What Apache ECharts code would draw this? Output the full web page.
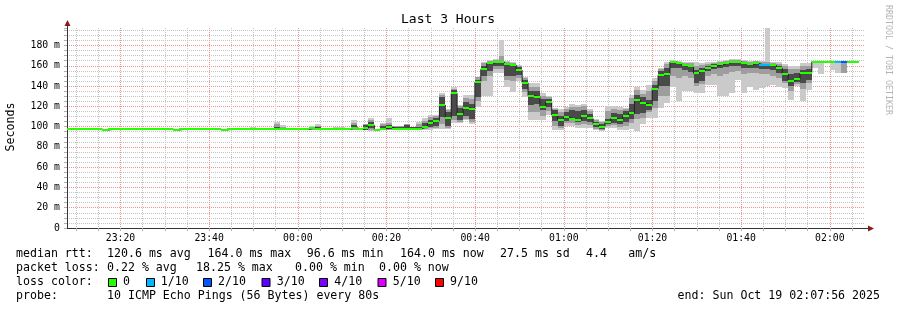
<!DOCTYPE html>
<html><head><meta charset="utf-8">
<script src="https://cdn.jsdelivr.net/npm/echarts@6/dist/echarts.min.js"></script>
<style>html,body{margin:0;padding:0;background:#fff}#c{width:897px;height:310px}</style>
</head><body><div id="c"></div>
<script>
// ---- time base (minutes since 00:00 of Oct 18) ----
const stepStart = 23 * 60 + 7 + 56 / 60;   // 23:07:56
const stepMinutes = 80 / 60;                // probe every 80 s
const spanMinutes = 180;                    // last 3 hours

// x tick labels
const tickMinutes = [1400, 1420, 1440, 1460, 1480, 1500, 1520, 1540, 1560];
const tickLabels = ['23:20', '23:40', '00:00', '00:20', '00:40', '01:00', '01:20', '01:40', '02:00'];

// median rtt per step (ms)
const median = [
  97.4, 97.4, 97.4, 97.4, 97.4, 97.4, 96.6, 97.4, 97.4, 97.4,
  97.4, 97.4, 97.4, 97.4, 97.4, 97.4, 97.4, 97.4, 96.6, 97.4,
  97.4, 97.4, 97.4, 97.4, 97.4, 97.4, 96.6, 97.4, 97.4, 97.4,
  97.4, 97.4, 97.4, 97.4, 97.4, 97.6, 97.4, 97.4, 97.4, 97.4,
  97.4, 98.6, 97.6, 97.4, 97.4, 97.4, 97.4, 97.4, 98.9, 97.4,
  98.6, 101.3, 97.0, 98.0, 99.3, 97.5, 98.0, 97.6, 97.6, 98.0,
  99.9, 103.2, 105.8, 121.3, 108.2, 132.8, 112.1, 118.7, 117.0, 143.7,
  156.5, 162.4, 163.7, 163.7, 161.4, 160.7, 155.8, 143.3, 130.5, 129.5,
  119.6, 124.5, 111.4, 106.5, 109.2, 107.5, 106.5, 110.5, 108.2, 102.6,
  99.9, 104.2, 108.2, 106.5, 110.5, 113.1, 126.2, 123.0, 121.3, 137.5,
  151.0, 151.6, 163.8, 162.4, 160.4, 159.5, 152.6, 155.2, 158.2, 159.9,
  161.4, 162.6, 164.0, 163.8, 162.4, 161.4, 162.4, 160.6, 160.6, 160.6,
  157.8, 151.8, 145.5, 147.2, 152.6, 153.3, 164.0, 164.0, 164.0, 164.0,
  164.0, 164.0, 164.0, 164.0
];

// lost pings (of 10) per step
const loss = [
  0,0,0,0,0,0,0,0,0,0, 0,0,0,0,0,0,0,0,0,0, 0,0,0,0,0,0,0,0,0,0,
  0,0,0,0,0,0,0,0,0,0, 0,0,0,0,0,0,0,0,0,0, 0,0,0,0,0,0,0,0,0,0,
  0,0,0,0,0,0,0,0,0,0, 0,0,0,0,0,0,0,0,0,0, 0,0,0,0,0,0,0,0,0,0,
  0,0,0,0,0,0,0,0,0,0, 0,0,0,0,0,0,0,0,0,0, 0,0,0,0,0,0,0,1,1,0,
  0,0,0,0,0,0,0,0,0,0, 1,2,0,0
];

// smoke: outer low, inner low, dark low, dark high, inner high, outer high (ms)
const N = null;
const smokeMin = [
  N,N,N,N,N,N,N,N,N,N, N,N,N,N,N,N,N,N,N,N, N,N,N,N,N,N,N,N,N,N,
  N, 97.4, N, N, N, 96.8, 97.4, N, N, N,
  N, 96.6, 96.8, N, N, 97.4, 97.4, N, 96.6, 96.6,
  96.6, 95.8, N, 96.6, 96.6, 96.6, 96.6, 96.6, 96.6, 96.6,
  96.6, 96.6, 97.6, 97.6, 97.3, 104.0, 103.3, 106.5, 103.0, 119.6,
  130, 130, 153, 153, 139, 134, 145, 129.5, 106.5, 106.5,
  106.5, 111, 96.6, 96.6, 101, 101, 99, 99, 99, 96.6,
  96, 99, 99, 97, 97, 98, 96, 103, 109, 109,
  118, 123, 139, 125, 135, 135, 133, 133, 141, 141,
  130, 130, 133, 146, 133, 139, 136, 138, 140, 141,
  139, 138, 126, 140, 125, 136, 158, 151.7, N, 155.8,
  152.6, 153, N, N
];
const smokeLow = [
  N,N,N,N,N,N,N,N,N,N, N,N,N,N,N,N,N,N,N,N, N,N,N,N,N,N,N,N,N,N,
  N, 97.4, N, N, N, 97.0, 97.4, N, N, N,
  N, 97.0, 97.0, N, N, 97.4, 97.4, N, 96.8, 96.6,
  96.8, 96.6, N, 96.8, 96.8, 96.6, 96.6, 96.6, 96.6, 96.6,
  97.5, 98.5, 99.0, 103.0, 99.0, 107.0, 105.0, 108.0, 105.0, 125,
  145, 150, 157, 157, 146, 145, 148, 134, 114, 114,
  110, 115, 101, 99, 104, 104, 102, 103, 102, 98,
  97, 101, 102, 100, 101, 104, 108, 109, 114, 118,
  130, 130, 150, 148, 150, 148, 140, 142, 150, 152,
  150, 152, 154, 155, 152, 153, 153, 152, 152, 150,
  148, 143, 135, 142, 137, 143, 164, 164, N, 164,
  164, 153, N, N
];
const darkLow = [
  N,N,N,N,N,N,N,N,N,N, N,N,N,N,N,N,N,N,N,N, N,N,N,N,N,N,N,N,N,N,
  N, 97.4, N, N, N, 97.2, 97.4, N, N, N,
  N, 97.5, 97.2, N, N, 97.4, 97.4, N, 97.3, 96.8,
  97.0, 98.3, N, 97.0, 97.3, 96.8, 97.0, 97.0, 97.0, 97.0,
  98.3, 100.0, 100.5, 109.8, 100.5, 110.0, 107.0, 110.0, 108.0, 129.5,
  150, 155, 160, 160, 150, 150, 151, 137, 121, 122,
  116, 119, 106, 101, 106, 107, 105, 106, 105, 100,
  98, 103, 104, 103, 105, 108, 112, 113, 116, 125,
  140, 140, 158, 158, 156, 154, 143, 145, 155, 157,
  158, 159, 160, 160, 158, 158, 158, 157, 157, 156,
  153, 145, 140, 144, 143, 146, 164, 164, N, 164,
  164, 164, N, N
];
const darkHigh = [
  N,N,N,N,N,N,N,N,N,N, N,N,N,N,N,N,N,N,N,N, N,N,N,N,N,N,N,N,N,N,
  N, 97.4, N, N, N, 100.0, 97.8, N, N, N,
  N, 99.5, 99.5, N, N, 97.4, 97.4, N, 101.6, 99.0,
  101.6, 104.9, N, 100.5, 101.6, 100.0, 100.0, 101.5, 99.5, 100.0,
  103.9, 107.0, 109.0, 129.5, 114.7, 136.0, 118.0, 124.0, 122.0, 146,
  160, 164, 165, 165, 162.4, 162, 159, 146, 135, 135,
  127, 127, 116, 110, 114, 116, 115, 116, 112, 105,
  103, 108, 113, 112, 115, 122, 131, 129, 126, 141,
  155, 158, 164.5, 163.5, 162, 161, 156, 158, 160, 161.5,
  163, 164, 165, 165, 163.5, 162.5, 163.5, 162, 162, 162,
  160, 157, 152, 153, 156, 157, 164, 164, N, 164,
  164, 164, N, N
];
const smokeHigh = [
  N,N,N,N,N,N,N,N,N,N, N,N,N,N,N,N,N,N,N,N, N,N,N,N,N,N,N,N,N,N,
  N, 98.0, N, N, N, 103.0, 99.5, N, N, N,
  N, 100.0, 101.0, N, N, 98.5, 98.5, N, 104.0, 99.0,
  102.3, 107.0, N, 102.3, 104.0, 101.0, 101.0, 102.3, 100.0, 103.0,
  106.0, 109.5, 110.5, 131.5, 116.0, 137.5, 120.0, 128.0, 127.0, 148.5,
  162.5, 165, 166, 170, 163.5, 163, 160, 148, 139, 139,
  130, 129, 117, 114, 117, 119, 119, 120, 115, 107,
  105, 115, 117, 116, 117, 128, 136, 132, 135, 145,
  157, 162, 165, 164, 163, 162.5, 160, 161, 162, 163,
  164, 165, 166, 166, 164.5, 164, 164.5, 163.5, 164, 163,
  162, 160, 157, 157, 160, 160, 164, 164, N, 164,
  164, 164, N, N
];
const smokeMax = [
  N,N,N,N,N,N,N,N,N,N, N,N,N,N,N,N,N,N,N,N, N,N,N,N,N,N,N,N,N,N,
  N, 100.0, N, N, N, 104.8, 101.5, N, N, N,
  N, 100.5, 102.3, N, N, 99.3, 99.3, N, 106.5, 99.0,
  102.3, 108.3, N, 103.8, 108.2, 101.0, 101.0, 102.3, 100.0, 104.9,
  108.2, 111.4, 111.4, 133.5, 117.0, 138.7, 121.3, 131.2, 131.0, 149.3,
  164, 166, 167, 185, 164.5, 164, 161, 149.3, 142.6, 142.6,
  133, 130, 118, 117, 119.6, 122, 121, 122, 117, 108,
  106, 120, 120, 119, 118, 131, 139, 136, 141, 148,
  158, 164, 165.5, 165, 164, 164, 164, 163, 164, 164,
  165, 166, 167, 166.5, 166, 165, 165, 165, 197, 164,
  164, 162, 160, 160, 163, 163, 164, 164, N, 164,
  164, 164, N, N
];

// legend texts
const lossLabels = ['0', '1/10', '2/10', '3/10', '4/10', '5/10', '9/10'];
const lossColors = ['#26ff00', '#00b8ff', '#0059ff', '#5e00ff', '#7e00ff', '#dd00ff', '#ff0000'];

// ---- layout / style ----
const MONO = '"DejaVu Sans Mono", monospace';
const GL = 67, GT = 28, GR = 865, GB = 228;
const yMax = 197.3;
const GRID_GRAY = '#c4c4c4', GRID_RED = '#f09090';
const SMOKE = ['#cacaca', '#9e9e9e', '#4a4a4a', '#9e9e9e', '#cacaca'];

const xStart = stepStart, xEnd = stepStart + spanMinutes;
const gridMinutes = [];
for (let m = Math.ceil(xStart / 5) * 5; m < xEnd; m += 5) gridMinutes.push(m);

const times = median.map((_, i) => stepStart + i * stepMinutes);
const smokeData = [];
median.forEach((_, i) => {
  if (smokeMin[i] !== null) smokeData.push([times[i], times[i] + stepMinutes, smokeMin[i], smokeLow[i], darkLow[i], darkHigh[i], smokeHigh[i], smokeMax[i]]);
});
const medData = median.map((v, i) => [times[i], times[i] + stepMinutes, v, loss[i]]);
const lineData = median.map((v, i) => [times[i], v]);
lineData.push([times[times.length - 1] + stepMinutes, median[median.length - 1]]);

function lossColor(n) { return n >= 6 ? lossColors[6] : lossColors[n]; }

function smokeRender(params, api) {
  const t0 = api.value(0), t1 = api.value(1);
  const x0 = Math.round(api.coord([t0, 0])[0]);
  const x1 = Math.round(api.coord([t1, 0])[0]);
  const vals = [2, 3, 4, 5, 6, 7].map(k => api.value(k));
  const children = [];
  for (let k = 0; k < 5; k++) {
    const ya = Math.round(api.coord([t0, vals[k]])[1]);
    const yb = Math.round(api.coord([t0, vals[k + 1]])[1]);
    if (ya - yb > 0) children.push({ type: 'rect', shape: { x: x0, y: yb, width: x1 - x0, height: ya - yb }, style: { fill: SMOKE[k] } });
  }
  return { type: 'group', children };
}
function medRender(params, api) {
  const t0 = api.value(0), t1 = api.value(1);
  const x0 = Math.round(api.coord([t0, 0])[0]);
  const x1 = Math.round(api.coord([t1, 0])[0]);
  const y = Math.round(api.coord([t0, api.value(2)])[1]);
  return { type: 'rect', shape: { x: x0, y: y - 1, width: x1 - x0, height: 2 }, style: { fill: lossColor(api.value(3)) } };
}

const graphics = [];
function txt(x, y, s, opts) {
  graphics.push(Object.assign({ type: 'text', x, y, silent: true,
    style: Object.assign({ text: s, font: '11.6px ' + MONO, fill: '#000', textAlign: 'left', textVerticalAlign: 'middle' }, opts || {}) }));
}
// title
txt(448, 20, 'Last 3 Hours', { font: '13px ' + MONO, textAlign: 'center' });
// y name
graphics.push({ type: 'text', x: 11, y: 127, rotation: Math.PI / 2, silent: true,
  style: { text: 'Seconds', font: '11.6px ' + MONO, fill: '#000', textAlign: 'center', textVerticalAlign: 'middle' } });
// watermark
graphics.push({ type: 'text', x: 888, y: 5, rotation: -Math.PI / 2, silent: true,
  style: { text: 'RRDTOOL / TOBI OETIKER', font: '8.3px ' + MONO, fill: '#b4b4b4', textAlign: 'left', textVerticalAlign: 'middle' } });
// axis extensions and arrows
graphics.push({ type: 'line', shape: { x1: GL + 0.5, y1: GT, x2: GL + 0.5, y2: GT - 6 }, style: { stroke: '#333', lineWidth: 1 } });
graphics.push({ type: 'polygon', shape: { points: [[GL + 0.5, 20], [GL - 2.5, 26], [GL + 3.5, 26]] }, style: { fill: '#8b1a1a' } });
graphics.push({ type: 'line', shape: { x1: GR, y1: GB + 0.5, x2: GR + 4, y2: GB + 0.5 }, style: { stroke: '#333', lineWidth: 1 } });
graphics.push({ type: 'polygon', shape: { points: [[GR + 9, GB + 0.5], [GR + 3, GB - 2.5], [GR + 3, GB + 3.5]] }, style: { fill: '#8b1a1a' } });
// legend
txt(16, 254, 'median rtt:');
txt(107, 254, '120.6 ms avg');
txt(207.5, 254, '164.0 ms max');
txt(306.7, 254, '96.6 ms min');
txt(400, 254, '164.0 ms now');
txt(500, 254, '27.5 ms sd');
txt(586, 254, '4.4');
txt(628.3, 254, 'am/s');
txt(16, 268, 'packet loss:');
txt(107, 268, '0.22 % avg');
txt(196, 268, '18.25 % max');
txt(295, 268, '0.00 % min');
txt(379, 268, '0.00 % now');
txt(16, 282, 'loss color:');
const boxX = [108, 146, 203, 261.5, 319, 377.5, 435];
const labX = [123, 160.7, 218, 276.7, 334.3, 392.7, 450];
lossLabels.forEach((l, i) => {
  graphics.push({ type: 'rect', shape: { x: boxX[i] + 0.5, y: 278.5, width: 8, height: 8 }, style: { fill: lossColors[i], stroke: '#000', lineWidth: 1 } });
  txt(labX[i], 282, l);
});
txt(16, 296, 'probe:');
txt(107, 296, '10 ICMP Echo Pings (56 Bytes) every 80s');
txt(880, 296, 'end: Sun Oct 19 02:07:56 2025', { textAlign: 'right' });

const chart = echarts.init(document.getElementById('c'), null, { renderer: 'canvas' });
chart.setOption({
  animation: false,
  backgroundColor: '#fff',
  grid: { left: GL, top: GT, right: 897 - GR, bottom: 310 - GB, containLabel: false, outerBoundsMode: 'none' },
  xAxis: {
    type: 'value', min: xStart, max: xEnd,
    axisLine: { show: true, onZero: false, lineStyle: { color: '#333', width: 1 } },
    axisTick: { show: true, customValues: gridMinutes, length: 3, lineStyle: { color: '#b0b0b0' } },
    axisLabel: {
      customValues: tickMinutes, margin: 5, fontSize: 9.8, fontFamily: MONO, color: '#000',
      formatter: v => { const k = tickMinutes.indexOf(Math.round(v)); return k >= 0 ? tickLabels[k] : ''; }
    },
    splitLine: { show: true, lineStyle: { color: [GRID_GRAY, GRID_GRAY, GRID_RED, GRID_GRAY], type: [1, 1], width: 1 } }
  },
  yAxis: {
    type: 'value', min: 0, max: yMax, interval: 5,
    axisLine: { show: true, lineStyle: { color: '#333', width: 1 } },
    axisTick: { show: true, length: 3, lineStyle: { color: '#b0b0b0' } },
    axisLabel: {
      margin: 7, fontSize: 9.8, fontFamily: MONO, color: '#000',
      formatter: v => v === 0 ? '0' : (Math.abs(v % 20) < 1e-6 ? v + ' m' : '')
    },
    splitLine: { show: true, showMinLine: true, showMaxLine: false, lineStyle: { color: [GRID_RED, GRID_GRAY, GRID_GRAY, GRID_GRAY], type: [1, 1], width: 1 } }
  },
  series: [
    { type: 'custom', name: 'smoke', data: smokeData, renderItem: smokeRender, encode: { x: 0, y: 2 }, clip: true, z: 2, silent: true },
    { type: 'line', name: 'median', data: lineData, step: 'end', showSymbol: false, symbol: 'none', lineStyle: { color: '#202020', width: 1 }, z: 3, silent: true },
    { type: 'custom', name: 'loss', data: medData, renderItem: medRender, encode: { x: 0, y: 2 }, clip: true, z: 4, silent: true }
  ],
  graphic: graphics
});
</script>
</body></html>
